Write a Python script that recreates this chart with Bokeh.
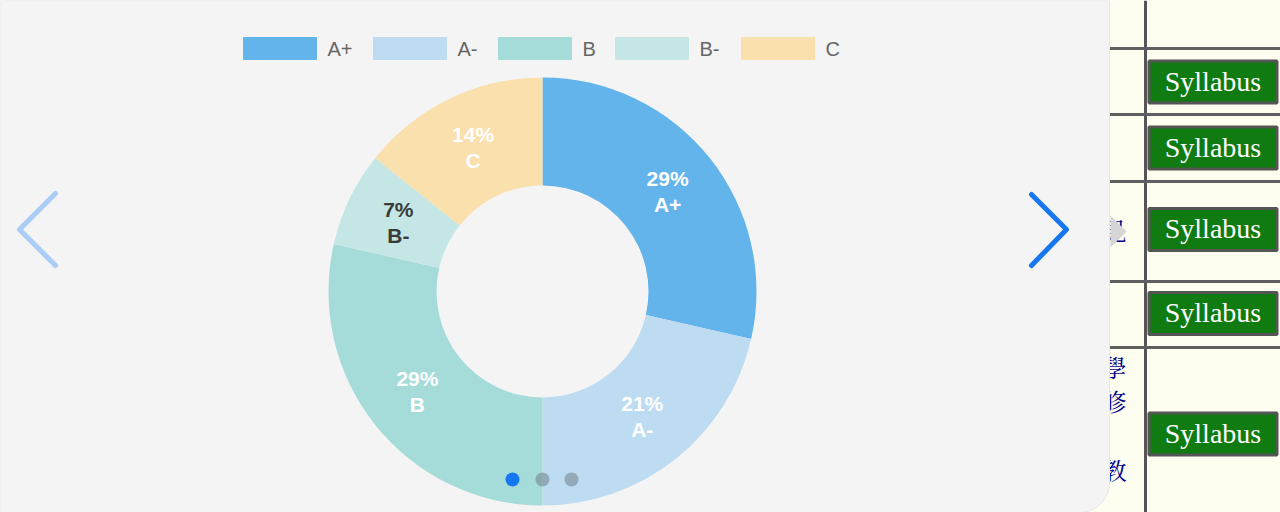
import math
from bokeh.plotting import figure
from bokeh.models import ColumnDataSource, Range1d
from bokeh.core.properties import value
from bokeh.embed import file_html
from bokeh.resources import INLINE

# ---- data ----
grades = ["A+", "A-", "B", "B-", "C"]
counts = [4, 3, 4, 1, 2]
colors = ["#64b4ec", "#bddcf2", "#a5dbd9", "#c4e6e5", "#f9e0ac"]
label_colors = ["#ffffff", "#ffffff", "#ffffff", "#3a3a3a", "#ffffff"]

W, H = 1280, 512


def Y(py):
    return H - py


p = figure(width=W, height=H, x_range=Range1d(0, W), y_range=Range1d(0, H),
           x_axis_type=None, y_axis_type=None, toolbar_location=None,
           output_backend="svg", min_border=0)
p.grid.visible = False
p.outline_line_color = None
p.background_fill_color = "#fdfdf0"
p.border_fill_color = "#fdfdf0"

# ---- right-hand table (page behind carousel) ----
for cy_, ch in [(229, "見"), (366, "學"), (400, "修"), (469, "教")]:
    p.text(x=[1102], y=[Y(cy_)], text=[ch], text_font=value("Noto Serif CJK TC"),
           text_font_size="24px", text_color="#00008b", text_align="left",
           text_baseline="middle")
p.segment(x0=[1145], y0=[Y(0)], x1=[1145], y1=[Y(512)], line_color="#555555", line_width=3)
for hy in [48, 114, 181, 281, 347]:
    p.segment(x0=[1100], y0=[Y(hy)], x1=[1280], y1=[Y(hy)], line_color="#5f5f5f", line_width=3)
btn_y = [81.5, 147.5, 229, 313, 433.5]
p.rect(x=[1212.5] * 5, y=[Y(v) for v in btn_y], width=128, height=42,
       fill_color="#0f7b10", line_color="#555555", line_width=3)
p.text(x=[1212.5] * 5, y=[Y(v) + 1 for v in btn_y], text=["Syllabus"] * 5,
       text_font=value("Liberation Serif"), text_font_size="28px", text_color="#ffffff",
       text_align="center", text_baseline="middle")

# ---- carousel panel with rounded bottom-right corner ----
R = 30
px = [0, 1109, 1109]
py = [Y(0), Y(0), Y(512 - R)]
for k in range(1, 16):
    a = k / 15 * (math.pi / 2)
    px.append(1109 - R + R * math.cos(a))
    py.append(Y(512 - R + R * math.sin(a)))
px += [0]
py += [Y(512)]
p.patch(px, py, fill_color="#f4f4f4", line_color="#e6e6e6", line_width=1)
p.patch([1110, 1126, 1110], [Y(215), Y(231), Y(247)], fill_color="#d6d6d6", line_color=None)

# ---- donut ----
cx, cy = 542, Y(291)
r_in, r_out = 106, 214
total = sum(counts)
starts, ends, lx, ly, pct = [], [], [], [], []
cum = 0
for c in counts:
    f0 = cum / total
    f1 = (cum + c) / total
    starts.append(math.pi / 2 - 2 * math.pi * f0)
    ends.append(math.pi / 2 - 2 * math.pi * f1)
    mid = math.pi / 2 - 2 * math.pi * (f0 + f1) / 2
    rl = (r_in + r_out) / 2
    lx.append(cx + rl * math.cos(mid))
    ly.append(cy + rl * math.sin(mid))
    pct.append(f"{round(100 * c / total)}%")
    cum += c

src = ColumnDataSource(dict(grade=grades, count=counts, color=colors, start=starts,
                            end=ends, lx=lx, ly1=[v + 13 for v in ly],
                            ly2=[v - 13 for v in ly], pct=pct, lc=label_colors))
p.annular_wedge(x=cx, y=cy, inner_radius=r_in, outer_radius=r_out,
                inner_radius_units="screen", outer_radius_units="screen",
                start_angle="start", end_angle="end", direction="clock",
                fill_color="color", line_color=None, source=src)
p.text(x="lx", y="ly1", text="pct", text_color="lc", text_font=value("Liberation Sans"),
       text_font_style="bold", text_font_size="21px", text_align="center",
       text_baseline="middle", source=src)
p.text(x="lx", y="ly2", text="grade", text_color="lc", text_font=value("Liberation Sans"),
       text_font_style="bold", text_font_size="21px", text_align="center",
       text_baseline="middle", source=src)

# ---- legend ----
leg_x0 = [243, 373, 498, 615, 741]
p.rect(x=[v + 36.5 for v in leg_x0], y=[Y(48)] * 5, width=73, height=22,
       fill_color=colors, line_color=colors, line_width=1)
p.text(x=[v + 84 for v in leg_x0], y=[Y(48)] * 5, text=grades,
       text_font=value("Liberation Sans"), text_font_size="20px", text_color="#666666",
       text_align="left", text_baseline="middle")

# ---- carousel controls ----
p.line([55, 19, 55], [Y(193), Y(229), Y(265)], line_color="#a9cdf6", line_width=5,
       line_cap="round", line_join="round")
p.line([1031, 1066, 1031], [Y(194), Y(229), Y(265)], line_color="#1677f0", line_width=5,
       line_cap="round", line_join="round")
p.circle(x=[512], y=[Y(479)], radius=7, radius_units="screen",
         fill_color="#1677f0", line_color=None)
p.circle(x=[542, 571], y=[Y(479)] * 2, radius=7, radius_units="screen",
         fill_color="#6c757d", fill_alpha=0.5, line_color=None)

open("out.html", "w").write(file_html(p, INLINE))
